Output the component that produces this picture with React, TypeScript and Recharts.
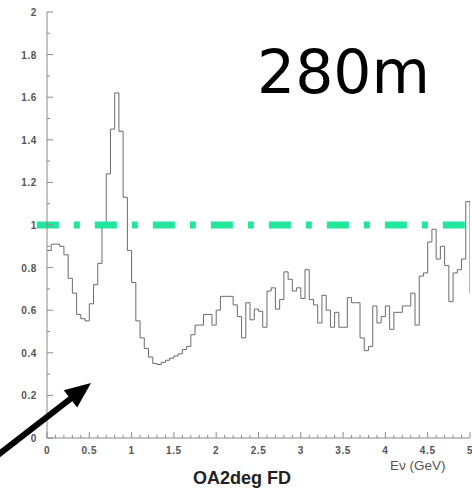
import { LineChart, Line, XAxis, YAxis, ReferenceLine } from 'recharts'

// far detector / near detector flux ratio, 0.05 GeV bins (low edge)
const binWidth = 0.05
const ratio = [
  0.88, 0.91, 0.91, 0.9, 0.86, 0.75, 0.68, 0.58, 0.56, 0.55,
  0.63, 0.72, 0.82, 1.0, 1.24, 1.45, 1.62, 1.44, 1.13, 0.88,
  0.73, 0.55, 0.47, 0.42, 0.38, 0.35, 0.345, 0.355, 0.365, 0.375,
  0.385, 0.395, 0.415, 0.43, 0.485, 0.53, 0.53, 0.58, 0.58, 0.53,
  0.6, 0.665, 0.665, 0.665, 0.625, 0.57, 0.47, 0.635, 0.555, 0.605,
  0.595, 0.52, 0.69, 0.705, 0.605, 0.65, 0.78, 0.745, 0.69, 0.705,
  0.655, 0.79, 0.65, 0.625, 0.54, 0.67, 0.6, 0.52, 0.59, 0.52,
  0.52, 0.66, 0.635, 0.635, 0.47, 0.41, 0.43, 0.62, 0.54, 0.57,
  0.62, 0.51, 0.59, 0.59, 0.62, 0.62, 0.68, 0.53, 0.76, 0.775,
  0.92, 0.98, 0.84, 0.9, 0.81, 0.64, 0.775, 0.79, 0.84, 1.11,
  0.68,
]
const histData = ratio.map((r, i) => ({ e: +(i * binWidth).toFixed(2), r }))

const xTicks = Array.from({ length: 51 }, (_, i) => +(i * 0.1).toFixed(1))
const yTicks = Array.from({ length: 21 }, (_, i) => +(i * 0.1).toFixed(1))

const axisColor = '#8a8a8a'
const labelStyle = {
  fontFamily: 'Liberation Sans, Arial, sans-serif',
  fontSize: 10,
  fontWeight: 700,
  fill: '#555',
  letterSpacing: 0.6,
}

const isMajorX = (v: number) => Math.abs(v * 2 - Math.round(v * 2)) < 1e-6
const isMajorY = (v: number) => Math.abs(v * 5 - Math.round(v * 5)) < 1e-6
const fmt = (v: number) => String(+v.toFixed(1))

const BottomTick = ({ x, y, payload }: any) => {
  const major = isMajorX(payload.value)
  return (
    <g>
      <line x1={x} y1={y} x2={x} y2={y - (major ? 6 : 3)} stroke={axisColor} />
      {major && (
        <text x={x} y={y + 16} textAnchor="middle" {...labelStyle}>
          {fmt(payload.value)}
        </text>
      )}
    </g>
  )
}

const TopTick = ({ x, y, payload }: any) => (
  <line x1={x} y1={y} x2={x} y2={y + (isMajorX(payload.value) ? 6 : 3)} stroke={axisColor} />
)

const LeftTick = ({ x, y, payload }: any) => {
  const major = isMajorY(payload.value)
  return (
    <g>
      <line x1={x} y1={y} x2={x + (major ? 6 : 3)} y2={y} stroke={axisColor} />
      {major && (
        <text x={x - 10} y={y + 4} textAnchor="end" {...labelStyle}>
          {fmt(payload.value)}
        </text>
      )}
    </g>
  )
}

function Arrow() {
  const tip = { x: 91, y: 383 }
  const tail = { x: -6, y: 458 }
  const dx = tip.x - tail.x
  const dy = tip.y - tail.y
  const len = Math.hypot(dx, dy)
  const ux = dx / len
  const uy = dy / len
  const head = 26
  const half = 11
  const bx = tip.x - ux * head
  const by = tip.y - uy * head
  return (
    <g>
      <line x1={tail.x} y1={tail.y} x2={bx + ux * 2} y2={by + uy * 2} stroke="#000" strokeWidth={6} />
      <polygon
        points={`${tip.x},${tip.y} ${bx - uy * half},${by + ux * half} ${bx + uy * half},${by - ux * half}`}
        fill="#000"
      />
    </g>
  )
}

export default function App() {
  return (
    <div style={{ position: 'absolute', left: 0, top: 0, width: 472, height: 488, background: '#fff' }}>
      <LineChart width={472} height={488} data={histData} margin={{ top: 12, right: 2, bottom: 20, left: 0 }}>
        <XAxis
          dataKey="e"
          type="number"
          domain={[0, 5]}
          allowDataOverflow
          ticks={xTicks}
          interval={0}
          height={30}
          tickSize={0}
          tickMargin={0}
          tickLine={false}
          stroke={axisColor}
          tick={<BottomTick />}
        />
        <XAxis
          xAxisId="top"
          orientation="top"
          dataKey="e"
          type="number"
          domain={[0, 5]}
          ticks={xTicks}
          interval={0}
          height={0}
          tickSize={0}
          tickMargin={0}
          tickLine={false}
          stroke={axisColor}
          tick={<TopTick />}
        />
        <YAxis
          type="number"
          domain={[0, 2]}
          ticks={yTicks}
          interval={0}
          width={47}
          tickSize={0}
          tickMargin={0}
          tickLine={false}
          stroke={axisColor}
          tick={<LeftTick />}
        />
        <Line
          type="stepAfter"
          dataKey="r"
          stroke="#6b6b6b"
          strokeWidth={1}
          dot={false}
          isAnimationActive={false}
        />
        <ReferenceLine
          segment={[{ x: -0.12, y: 1 }, { x: 5.1, y: 1 }]}
          ifOverflow="visible"
          stroke="#22e69b"
          strokeWidth={7}
          strokeDasharray="22 15 6 15"
        />
      </LineChart>
      <svg width={472} height={488} style={{ position: 'absolute', left: 0, top: 0, pointerEvents: 'none' }}>
        <text x={257} y={93} fontFamily="DejaVu Sans, sans-serif" fontSize={60} fill="#000">
          280m
        </text>
        <text x={242} y={484} textAnchor="middle" fontFamily="Liberation Sans, Arial, sans-serif" fontSize={18} fontWeight={700} fill="#222">
          OA2deg FD
        </text>
        <text x={390} y={470} fontFamily="Liberation Sans, Arial, sans-serif" fontSize={13.5} fill="#555">
          Eν (GeV)
        </text>
        <Arrow />
      </svg>
    </div>
  )
}
